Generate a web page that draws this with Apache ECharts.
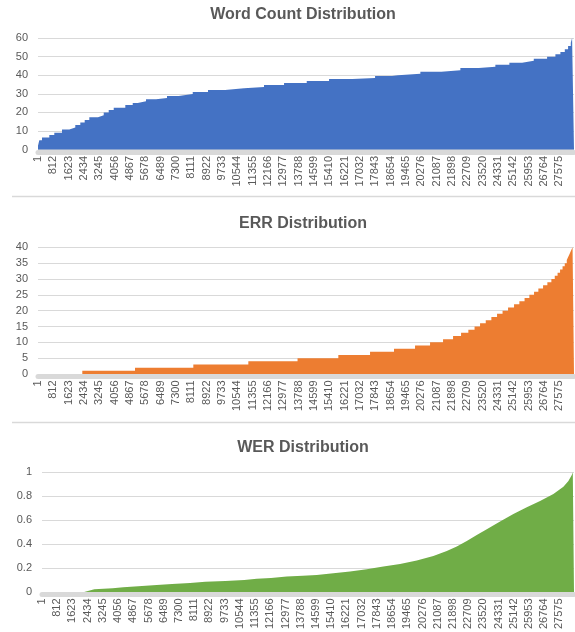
<!DOCTYPE html>
<html>
<head>
<meta charset="utf-8">
<script src="https://cdn.jsdelivr.net/npm/echarts@6/dist/echarts.min.js"></script>
<style>
    html, body { margin: 0; padding: 0; background: #fff; }
    #chart { width: 575px; height: 632px; }
</style>
</head>
<body>
<div id="chart"></div>
<script>
// rows are 1-based positions in the sorted list, values hold from that row on
const ROW_COUNT = 28350;
const X_STEP = 811;
const xTickLabels = [1, 812, 1623, 2434, 3245, 4056, 4867, 5678, 6489, 7300, 8111, 8922, 9733,
    10544, 11355, 12166, 12977, 13788, 14599, 15410, 16221, 17032, 17843, 18654, 19465, 20276,
    21087, 21898, 22709, 23520, 24331, 25142, 25953, 26764, 27575];

const wcRows = [1, 70, 213, 599, 863, 1271, 1657, 1974, 2239, 2471, 2715, 3175, 3477, 3741, 4006,
    4619, 5011, 5275, 5714, 6243, 6825, 7444, 8185, 8994, 9893, 10898, 11956, 13015, 14215, 15395,
    16628, 17829, 18728, 19045, 20225, 21336, 22341, 23314, 24192, 24933, 25605, 26224, 26928,
    27367, 27632, 27864, 28038, 28181, 28250];
const wcValues = [2, 5, 6.5, 7.8, 9, 10.8, 11.8, 13.2, 14.5, 15.9, 17.4, 18.4, 19.9, 21.2, 22.4,
    23.9, 25, 26, 27.1, 27.7, 28.8, 29.8, 30.9, 32, 32.9, 33.6, 34.7, 35.8, 36.9, 38,
    38.5, 39.6, 40, 40.7, 41.8, 42.7, 43.8, 44.5, 45.6, 46.7, 47.7, 48.8, 49.9,
    51.2, 52.4, 53.9, 55.7, 57.5, 60];

const errRows = [1, 2344, 5132, 8216, 11126, 13729, 15886, 17563, 18832, 19943, 20737, 21425,
    21954, 22377, 22763, 23091, 23382, 23683, 23980, 24281, 24572, 24863, 25180, 25461, 25736,
    25990, 26238, 26466, 26715, 26942, 27154, 27333, 27482, 27614, 27746, 27862, 27968, 28048,
    28122, 28196, 28275];
const errValues = [0, 1, 2, 3, 4, 5, 6, 7, 8, 9, 10, 11, 12, 13, 14, 15, 16, 17, 18, 19, 20,
    21, 22, 23, 24, 25, 26, 27, 28, 29, 30, 31, 32, 33, 34, 35, 36, 37, 38, 39, 40];

const werRows = [1, 2250, 2255, 2788, 3768, 4333, 5133, 6114, 6929, 7888, 8704, 9770, 10783, 11444,
    12206, 13043, 13895, 14642, 15527, 16416, 17307, 18192, 19081, 19972, 20856, 21571, 22104,
    22637, 23170, 23703, 24411, 25121, 25835, 26543, 27253, 27786, 28053, 28234, 28287];
const werValues = [0, 0, 0.011, 0.022, 0.031, 0.039, 0.047, 0.058, 0.067, 0.075, 0.084, 0.092,
    0.1, 0.109, 0.117, 0.128, 0.136, 0.142, 0.156, 0.17, 0.189, 0.212, 0.234, 0.262, 0.301,
    0.343, 0.379, 0.426, 0.476, 0.524, 0.588, 0.652, 0.708, 0.76, 0.819, 0.88, 0.928, 0.978, 1];

const textColor = "#595959";
const lineColor = "#d9d9d9";
const font = "Liberation Sans";

const panels = [
    { title: "Word Count Distribution", rows: wcRows, values: wcValues, color: "#4472c4", step: "end",
      yMax: 60, yInterval: 10, titleTop: 2, grid: { left: 38, top: 38, width: 536, height: 111.5 } },
    { title: "ERR Distribution", rows: errRows, values: errValues, color: "#ed7d31", step: "end",
      yMax: 40, yInterval: 5, titleTop: 211, grid: { left: 38, top: 247.3, width: 536, height: 126.7 } },
    { title: "WER Distribution", rows: werRows, values: werValues, color: "#70ad47", step: false,
      yMax: 1, yInterval: 0.2, titleTop: 435, grid: { left: 42, top: 472.3, width: 532, height: 119.7 } },
];

function toSeriesData(rows, values) {
    let data = rows.map((r, i) => [r - 1, values[i]]);
    data.push([ROW_COUNT, values[values.length - 1]]);
    return data;
}

let option = {
    animation: false,
    backgroundColor: "#fff",
    textStyle: { fontFamily: font },
    title: panels.map(p => ({
        text: p.title,
        left: 298,
        top: p.titleTop,
        textAlign: "center",
        textStyle: { fontSize: 16, fontWeight: "bold", color: textColor, fontFamily: font },
    })),
    grid: panels.map(p => p.grid),
    xAxis: panels.map((p, i) => ({
        gridIndex: i,
        type: "value",
        min: 0,
        max: ROW_COUNT,
        interval: X_STEP,
        offset: 2.5,
        axisLine: { show: true, onZero: false, lineStyle: { color: lineColor, width: 5 } },
        axisTick: { show: false },
        splitLine: { show: false },
        axisLabel: {
            rotate: 90,
            fontSize: 11,
            color: textColor,
            fontFamily: font,
            margin: 4,
            formatter: (v) => (v % X_STEP === 0 && xTickLabels[v / X_STEP] !== undefined) ? String(xTickLabels[v / X_STEP]) : "",
        },
    })),
    yAxis: panels.map((p, i) => ({
        gridIndex: i,
        type: "value",
        min: 0,
        max: p.yMax,
        interval: p.yInterval,
        axisLine: { show: false },
        axisTick: { show: false },
        splitLine: { lineStyle: { color: lineColor, width: 1 } },
        axisLabel: { fontSize: 11, color: textColor, fontFamily: font, margin: 10 },
    })),
    graphic: [
        { type: "line", shape: { x1: 12, y1: 196.5, x2: 575, y2: 196.5 }, style: { stroke: lineColor, lineWidth: 1.5 } },
        { type: "line", shape: { x1: 12, y1: 422.5, x2: 575, y2: 422.5 }, style: { stroke: lineColor, lineWidth: 1.5 } },
    ],
    series: panels.map((p, i) => ({
        type: "line",
        xAxisIndex: i,
        yAxisIndex: i,
        data: toSeriesData(p.rows, p.values),
        step: p.step,
        symbol: "none",
        silent: true,
        lineStyle: { opacity: 0 },
        areaStyle: { color: p.color, opacity: 1 },
    })),
};

let mychart = echarts.init(document.getElementById("chart"), null, { renderer: "canvas" });
mychart.setOption(option);
</script>
</body>
</html>
